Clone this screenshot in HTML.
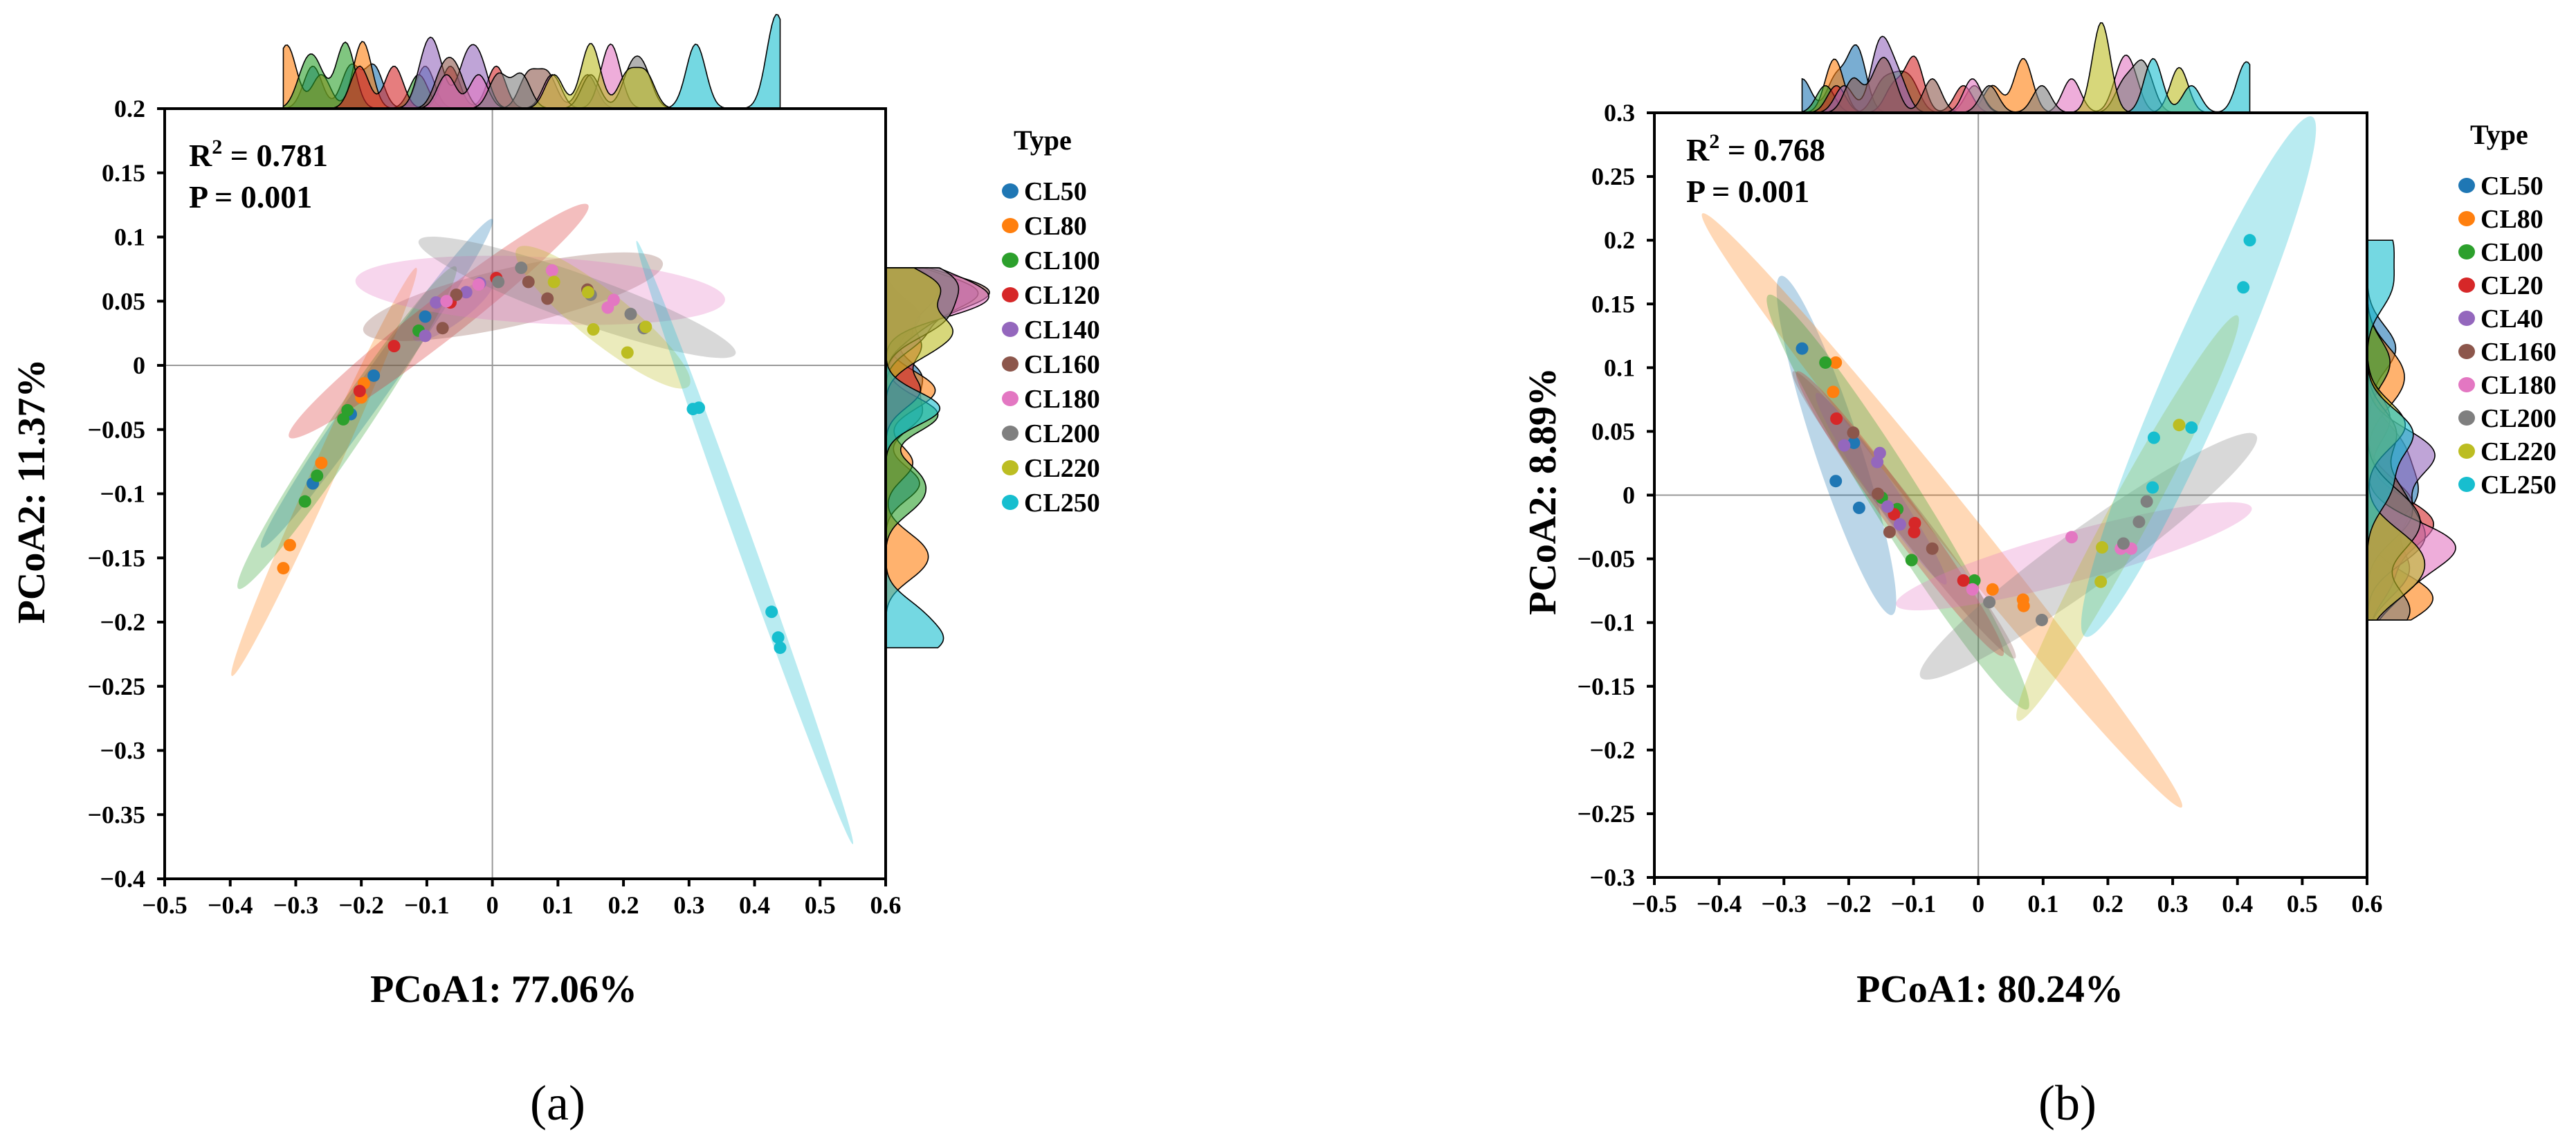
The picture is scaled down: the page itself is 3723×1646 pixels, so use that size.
<!DOCTYPE html>
<html><head><meta charset="utf-8">
<style>
html,body{margin:0;padding:0;background:#fff;}
svg{display:block;font-family:"Liberation Serif",serif;}
</style></head>
<body>
<svg id="chart" width="3723" height="1646" viewBox="0 0 3723 1646" xmlns="http://www.w3.org/2000/svg"></svg>
<script>
const groupsA = ["CL50","CL80","CL100","CL120","CL140","CL160","CL180","CL200","CL220","CL250"];
const groupsB = ["CL50","CL80","CL00","CL20","CL40","CL160","CL180","CL200","CL220","CL250"];
const colors = ["#1f77b4","#ff7f0e","#2ca02c","#d62728","#9467bd","#8c564b","#e377c2","#7f7f7f","#bcbd22","#17becf"];
const xTicks = [-0.5,-0.4,-0.3,-0.2,-0.1,0,0.1,0.2,0.3,0.4,0.5,0.6];
const yTicksA = [0.2,0.15,0.1,0.05,0,-0.05,-0.1,-0.15,-0.2,-0.25,-0.3,-0.35,-0.4];
const yTicksB = [0.3,0.25,0.2,0.15,0.1,0.05,0,-0.05,-0.1,-0.15,-0.2,-0.25,-0.3];
// panel a points [x,y] per group
const pointsA = [
 [[-0.1025,0.038],[-0.181,-0.008],[-0.216,-0.038],[-0.274,-0.092]],
 [[-0.196,-0.014],[-0.2,-0.025],[-0.261,-0.076],[-0.309,-0.14],[-0.319,-0.158]],
 [[-0.1125,0.027],[-0.221,-0.035],[-0.2275,-0.042],[-0.2675,-0.086],[-0.286,-0.106]],
 [[-0.15,0.015],[-0.2025,-0.02],[-0.064,0.049],[0.006,0.068]],
 [[-0.086,0.049],[-0.04,0.057],[-0.1025,0.023],[-0.019,0.064]],
 [[-0.055,0.055],[-0.076,0.029],[0.055,0.065],[0.084,0.052],[0.145,0.059]],
 [[-0.07,0.05],[-0.021,0.063],[0.091,0.074],[0.176,0.045],[0.185,0.051]],
 [[0.009,0.065],[0.044,0.076],[0.15,0.055],[0.211,0.04],[0.231,0.029]],
 [[0.094,0.065],[0.146,0.057],[0.154,0.028],[0.206,0.01],[0.234,0.03]],
 [[0.306,-0.034],[0.315,-0.033],[0.426,-0.192],[0.436,-0.212],[0.439,-0.22]]
];
// panel a ellipses: endpoints [x1,y1,x2,y2]
const ellipsesA = [
 [0,0.114,-0.3525,-0.142],[-0.116,0.076,-0.3975,-0.242],[-0.056,0.077,-0.3875,-0.174],
 [0.146,0.125,-0.31,-0.056],[0.0,0.065,-0.12,0.02],[-0.197,0.027,0.26,0.08],
 [-0.209,0.066,0.355,0.051],[-0.1125,0.097,0.371,0.009],[0.0375,0.091,0.3,-0.016],
 [0.22,0.097,0.55,-0.373]
];
const ellipseWidthA = [21,17,26,30,18,42,48,34,36,12];
const pointsB = [
 [[-0.272,0.115],[-0.192,0.041],[-0.22,0.011],[-0.184,-0.01]],
 [[-0.22,0.104],[-0.224,0.081],[0.022,-0.074],[0.069,-0.082],[0.07,-0.087]],
 [[-0.236,0.104],[-0.149,-0.002],[-0.125,-0.011],[-0.103,-0.051],[-0.006,-0.067]],
 [[-0.219,0.06],[-0.13,-0.015],[-0.098,-0.022],[-0.099,-0.029],[-0.023,-0.067]],
 [[-0.207,0.039],[-0.152,0.033],[-0.156,0.026],[-0.14,-0.009],[-0.121,-0.023]],
 [[-0.193,0.049],[-0.155,0.001],[-0.137,-0.029],[-0.071,-0.042]],
 [[-0.009,-0.074],[0.144,-0.033],[0.22,-0.042],[0.236,-0.042]],
 [[0.017,-0.084],[0.098,-0.098],[0.224,-0.038],[0.248,-0.021],[0.26,-0.005]],
 [[0.191,-0.041],[0.189,-0.068],[0.31,0.055]],
 [[0.269,0.006],[0.271,0.045],[0.329,0.053],[0.409,0.163],[0.419,0.2]]
];
const ellipsesB = [
 [-0.305,0.172,-0.133,-0.094],[-0.426,0.221,0.314,-0.245],[-0.324,0.157,0.076,-0.168],
 [-0.28,0.097,0.038,-0.126],[-0.25,0.08,-0.05,-0.07],[-0.286,0.097,0.057,-0.128],
 [-0.127,-0.086,0.422,-0.01],[-0.089,-0.143,0.429,0.047],[0.061,-0.177,0.4,0.141],
 [0.165,-0.111,0.515,0.297]
];
const ellipseWidthB = [33,30,36,24,18,22,36,42,30,48];

const NS="http://www.w3.org/2000/svg";
const svg=document.getElementById('chart');
function mk(tag,attrs,parent){const e=document.createElementNS(NS,tag);for(const k in attrs)e.setAttribute(k,attrs[k]);(parent||svg).appendChild(e);return e;}

function kde(vals,grid,bw){return grid.map(g=>{let s=0;for(const v of vals){const u=(g-v)/bw;s+=Math.exp(-0.5*u*u);}return s/(vals.length*bw*Math.sqrt(2*Math.PI));});}

function panel(cfg){
 const {id,L,R,T,B,ymin,ymax,groups,points,ellipses,ew,yTicks,xtitle,ytitle,ytX,r2,r2x,r2y,legX,legY,legStep,topH,rightW,label,labelX,xtX,bwx,bwy}=cfg;
 const sx=v=>L+(v+0.5)/1.1*(R-L);
 const sy=v=>B-(v-ymin)/(ymax-ymin)*(B-T);
 const g=mk('g',{});
 
 
 const all=points.flat();
 const xs=all.map(p=>p[0]), ys=all.map(p=>p[1]);
 const xmin=Math.min(...xs),xmax=Math.max(...xs),ymn=Math.min(...ys),ymx=Math.max(...ys);
 const N=240, gx=[],gy=[];
 for(let i=0;i<=N;i++){gx.push(xmin+(xmax-xmin)*i/N);gy.push(ymn+(ymx-ymn)*i/N);}
 const dx=points.map(p=>kde(p.map(q=>q[0]),gx,bwx));
 const dy=points.map(p=>kde(p.map(q=>q[1]),gy,bwy));
 const mxX=Math.max(...dx.flat()),mxY=Math.max(...dy.flat());
 const topG=mk('g',{},g);
 
 
 const rightG=mk('g',{},g);
 
 
 points.forEach((p,k)=>{
  let d='M'+sx(gx[0])+','+T;
  gx.forEach((x,i)=>{d+=' L'+sx(x).toFixed(1)+','+(T-dx[k][i]/mxX*topH).toFixed(1);});
  d+=' L'+sx(gx[N])+','+T+' Z';
  const pa=mk('path',{d:d,fill:colors[k],'fill-opacity':0.6,stroke:'#000','stroke-width':1.6},topG);
  
  
  let d2='M'+R+','+sy(gy[0]);
  gy.forEach((y,i)=>{d2+=' L'+(R+dy[k][i]/mxY*rightW).toFixed(1)+','+sy(y).toFixed(1);});
  d2+=' L'+R+','+sy(gy[N])+' Z';
  const pb=mk('path',{d:d2,fill:colors[k],'fill-opacity':0.6,stroke:'#000','stroke-width':1.6},rightG);
  
  
 });
 const bg=mk('rect',{x:L,y:T,width:R-L,height:B-T,fill:'#fff'},g);
 
 
 const zl1=mk('line',{x1:sx(0),x2:sx(0),y1:T,y2:B,stroke:'#999','stroke-width':2},g);
 
 
 const zl2=mk('line',{x1:L,x2:R,y1:sy(0),y2:sy(0),stroke:'#999','stroke-width':2},g);
 
 
 ellipses.forEach((e,k)=>{
  const x1=sx(e[0]),y1=sy(e[1]),x2=sx(e[2]),y2=sy(e[3]);
  const cx=(x1+x2)/2,cy=(y1+y2)/2,rx=Math.hypot(x2-x1,y2-y1)/2,ang=Math.atan2(y2-y1,x2-x1)*180/Math.PI;
  const el=mk('ellipse',{cx:cx,cy:cy,rx:rx,ry:ew[k],fill:colors[k],'fill-opacity':0.3,transform:`rotate(${ang} ${cx} ${cy})`},g);
  
  
 });
 points.forEach((p,k)=>p.forEach(q=>{
  const c=mk('circle',{cx:sx(q[0]),cy:sy(q[1]),r:9,fill:colors[k]},g);
  
  
 }));
 const fr=mk('rect',{x:L,y:T,width:R-L,height:B-T,fill:'none',stroke:'#000','stroke-width':4},g);
 
 
 xTicks.forEach(v=>{
  const tl=mk('line',{x1:sx(v),x2:sx(v),y1:B,y2:B+11,stroke:'#000','stroke-width':4},g);
  
  
  const t=mk('text',{x:sx(v),y:B+50,'text-anchor':'middle','font-size':36,'font-weight':'bold'},g);
  t.textContent=(v<0?'\u2212':'')+Math.abs(v).toString();
  
  
 });
 yTicks.forEach(v=>{
  const tl=mk('line',{x1:L-11,x2:L,y1:sy(v),y2:sy(v),stroke:'#000','stroke-width':4},g);
  
  
  const t=mk('text',{x:L-28,y:sy(v)+12,'text-anchor':'end','font-size':36,'font-weight':'bold'},g);
  t.textContent=(v<0?'\u2212':'')+Math.abs(v).toString();
  
  
 });
 const xt=mk('text',{x:xtX,y:1448,'text-anchor':'middle','font-size':56,'font-weight':'bold'},g);
 xt.textContent=xtitle;
 
 
 const yt=mk('text',{x:0,y:0,'text-anchor':'middle','font-size':56,'font-weight':'bold',transform:`translate(${ytX},710) rotate(-90)`},g);
 yt.textContent=ytitle;
 
 
 const s1=mk('text',{x:r2x,y:r2y,'font-size':46,'font-weight':'bold'},g);
 s1.innerHTML='R<tspan dy="-18" font-size="30">2</tspan><tspan dy="18"> = '+r2+'</tspan>';
 
 
 const s2=mk('text',{x:r2x,y:r2y+60,'font-size':46,'font-weight':'bold'},g);
 s2.textContent='P = 0.001';
 
 
 const lg=mk('g',{},g);
 
 
 const lt=mk('text',{x:legX+5,y:legY-60,'font-size':40,'font-weight':'bold'},lg);
 lt.textContent='Type';
 
 
 groups.forEach((nm,k)=>{
  const e=mk('g',{},lg);
  
  
  mk('ellipse',{cx:legX,cy:legY+k*legStep,rx:12,ry:11,fill:colors[k]},e);
  const t=mk('text',{x:legX+20,y:legY+k*legStep+13,'font-size':38,'font-weight':'bold'},e);
  t.textContent=nm;
 });
 const pl=mk('text',{x:labelX,y:1618,'text-anchor':'middle','font-size':72},g);
 pl.textContent=label;
 
 
}

panel({id:'a',L:238,R:1280,T:157,B:1270,ymin:-0.4,ymax:0.2,groups:groupsA,points:pointsA,ellipses:ellipsesA,ew:ellipseWidthA,yTicks:yTicksA,
 xtitle:'PCoA1: 77.06%',ytitle:'PCoA2: 11.37%',ytX:64,r2:'0.781',r2x:273,r2y:240,legX:1460,legY:276,legStep:50,topH:136,rightW:150,label:'(a)',labelX:806,xtX:728,bwx:0.014,bwy:0.013});
panel({id:'b',L:2391,R:3421,T:163,B:1268,ymin:-0.3,ymax:0.3,groups:groupsB,points:pointsB,ellipses:ellipsesB,ew:ellipseWidthB,yTicks:yTicksB,
 xtitle:'PCoA1: 80.24%',ytitle:'PCoA2: 8.89%',ytX:2248,r2:'0.768',r2x:2437,r2y:232,legX:3565,legY:268,legStep:48,topH:130,rightW:128,label:'(b)',labelX:2988,xtX:2876,bwx:0.014,bwy:0.018});
</script>
</body></html>
